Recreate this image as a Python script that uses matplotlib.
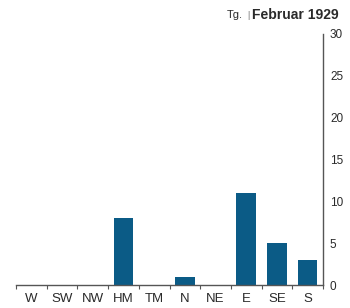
import matplotlib
matplotlib.use("Agg")
import matplotlib.pyplot as plt
import numpy as np

categories = ["W", "SW", "NW", "HM", "TM", "N", "NE", "E", "SE", "S"]
values = [0, 0, 0, 8, 0, 1, 0, 11, 5, 3]
yticks = [0, 5, 10, 15, 20, 25, 30]

plt.rcParams['font.family'] = ['Liberation Sans', 'DejaVu Sans']
W, H = 350, 308
fig = plt.figure(figsize=(W/100, H/100), dpi=100)
ax = fig.add_axes([16/W, 1-285/H, (323-16)/W, (285-34)/H])

bar_color = "#0b5b86"
txt = "#2a2a2a"
x = np.arange(len(categories))
ax.bar(x, values, width=0.64, color=bar_color, zorder=2)

ax.set_xlim(-0.5, len(categories)-0.5)
ax.set_ylim(0, 30)

for s in ["top", "left"]:
    ax.spines[s].set_visible(False)
ax.spines["bottom"].set_color("#555555")
ax.spines["right"].set_color("#555555")
ax.spines["bottom"].set_linewidth(1.0)
ax.spines["right"].set_linewidth(1.0)

ax.set_xticks(x)
ax.set_xticklabels(categories, fontsize=9.5, color=txt)
ax.tick_params(axis="x", which="major", length=0, pad=6)
ax.set_xticks(np.arange(-0.5, len(categories), 1.0), minor=True)
ax.tick_params(axis="x", which="minor", length=3, width=0.8, color="#555555", direction="out")

ax.yaxis.tick_right()
ax.set_yticks(yticks)
ax.set_yticklabels([str(v) for v in yticks], fontsize=8.5, color=txt)
ax.tick_params(axis="y", length=0, pad=5)

fig.text(339/W, 1-15/H, "Februar 1929", ha="right", va="center",
         fontsize=10, fontweight="bold", color=txt)
fig.text(243/W, 1-15/H, "Tg.", ha="right", va="center", fontsize=8, color=txt)
fig.text(248/W, 1-15/H, "|", ha="center", va="center", fontsize=6.5, color="#777777")

fig.savefig("out.png", dpi=100)
